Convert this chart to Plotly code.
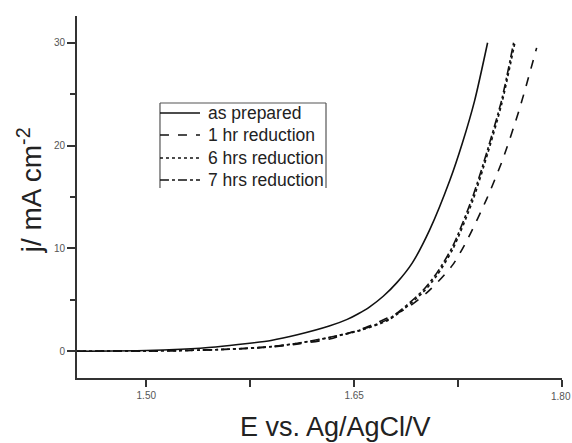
import plotly.graph_objects as go

# Data
E_prep = [1.45, 1.50, 1.525, 1.55, 1.573, 1.59, 1.609, 1.632, 1.645, 1.653, 1.661, 1.671, 1.681, 1.692, 1.7045, 1.719, 1.728, 1.737, 1.7463]
j_prep = [0.0, 0.07, 0.2, 0.42, 0.75, 1.05, 1.6, 2.45, 3.1, 3.65, 4.3, 5.35, 6.7, 8.6, 11.8, 16.6, 20.2, 24.4, 30.0]

E_1hr = [1.45, 1.50, 1.53, 1.56, 1.59, 1.61, 1.6324, 1.66, 1.688, 1.7045, 1.7211, 1.7319, 1.7456, 1.7571, 1.7694, 1.7817]
j_1hr = [0.0, 0.03, 0.08, 0.2, 0.42, 0.72, 1.2, 2.4, 4.2, 5.94, 8.4, 10.9, 14.8, 18.6, 23.6, 29.5]

E_6hr = [1.45, 1.50, 1.53, 1.56, 1.59, 1.61, 1.6324, 1.655, 1.6757, 1.6995, 1.7096, 1.7211, 1.7355, 1.7463, 1.7564, 1.766]
j_6hr = [0.0, 0.03, 0.08, 0.2, 0.44, 0.78, 1.33, 2.05, 3.1, 5.7, 7.35, 9.9, 14.6, 19.2, 24.0, 30.0]

E_7hr = [1.45, 1.50, 1.53, 1.56, 1.59, 1.61, 1.6324, 1.655, 1.6757, 1.6995, 1.7096, 1.7211, 1.7355, 1.7463, 1.7564, 1.7651]
j_7hr = [0.0, 0.03, 0.08, 0.2, 0.45, 0.8, 1.36, 2.1, 3.2, 5.9, 7.6, 10.2, 15.0, 19.6, 24.4, 30.0]

names = ["as prepared", "1 hr reduction", "6 hrs reduction", "7 hrs reduction"]
dashes = ["solid", "dash", "dot", "dashdot"]
series = [(E_prep, j_prep), (E_1hr, j_1hr), (E_6hr, j_6hr), (E_7hr, j_7hr)]

x_ticks = [1.50, 1.65, 1.80]
x_ticklabels = ["1.50", "1.65", "1.80"]
y_ticks = [0, 10, 20, 30]

FONT = "Liberation Sans, Arial"

fig = go.Figure()
for (ex, jy), nm, ds in zip(series, names, dashes):
    fig.add_trace(go.Scatter(x=ex, y=jy, mode="lines", name=nm, showlegend=False,
                             line=dict(color="#111111", width=1.6, dash=ds,
                                       shape="spline", smoothing=0.7)))

axis_common = dict(showline=True, linecolor="#333333", linewidth=2,
                   ticks="outside", tickcolor="#333333", tickwidth=1.5,
                   showgrid=False, zeroline=False,
                   tickfont=dict(family=FONT, size=10, color="#555555"))

fig.update_xaxes(range=[1.45, 1.80], tickvals=x_ticks[:2], ticktext=x_ticklabels[:2], ticklen=7,
                 minor=dict(tickvals=[1.575, 1.725, 1.80], ticklen=7, tickcolor="#333333",
                            ticks="outside", tickwidth=1.5),
                 **axis_common)
fig.update_yaxes(range=[-2.6, 32.6], tickvals=y_ticks, ticklen=8,
                 minor=dict(tickvals=[5, 15, 25], ticklen=5, tickcolor="#333333",
                            ticks="outside", tickwidth=1.5),
                 **axis_common)

annotations = [
    dict(text="E vs. Ag/AgCl/V", xref="paper", yref="paper", x=0.532, y=-0.135,
         xanchor="center", yanchor="middle", showarrow=False,
         font=dict(family=FONT, size=27, color="#222222")),
    dict(text="j/ mA cm<sup>-2</sup>", xref="paper", yref="paper", x=-0.098, y=0.52,
         xanchor="center", yanchor="middle", showarrow=False, textangle=-90,
         font=dict(family=FONT, size=28, color="#222222")),
    # last x tick label (at the picture edge as in the reference)
    dict(text=x_ticklabels[2], xref="x", yref="paper", x=x_ticks[2], y=-0.052,
         xanchor="center", yanchor="middle", showarrow=False, xshift=-1,
         font=dict(family=FONT, size=10, color="#555555")),
]

# custom legend: frame with three sides, samples and labels
lx0, lx1, ly0, ly1 = 0.1711, 0.5134, 0.5249, 0.7597
for (a, b, c, d) in [(lx0, ly0, lx0, ly1), (lx0, ly1, lx1, ly1), (lx1, ly1, lx1, ly0)]:
    fig.add_shape(type="line", xref="paper", yref="paper", x0=a, y0=b, x1=c, y1=d,
                  line=dict(color="#555555", width=1.2))
row_y = [0.7320, 0.6713, 0.6077, 0.5470]
for nm, ds, yy in zip(names, dashes, row_y):
    fig.add_shape(type="line", xref="paper", yref="paper", x0=0.1711, x1=0.2536, y0=yy, y1=yy,
                  line=dict(color="#111111", width=1.6, dash=ds))
    annotations.append(dict(text=nm, xref="paper", yref="paper", x=0.2660, y=yy,
                            xanchor="left", yanchor="middle", showarrow=False,
                            font=dict(family=FONT, size=17.5, color="#222222")))

fig.update_layout(
    width=572, height=443,
    margin=dict(l=77, r=10, t=16, b=65),
    paper_bgcolor="white", plot_bgcolor="white",
    showlegend=False,
    annotations=annotations,
)

fig.write_html("out.html")
